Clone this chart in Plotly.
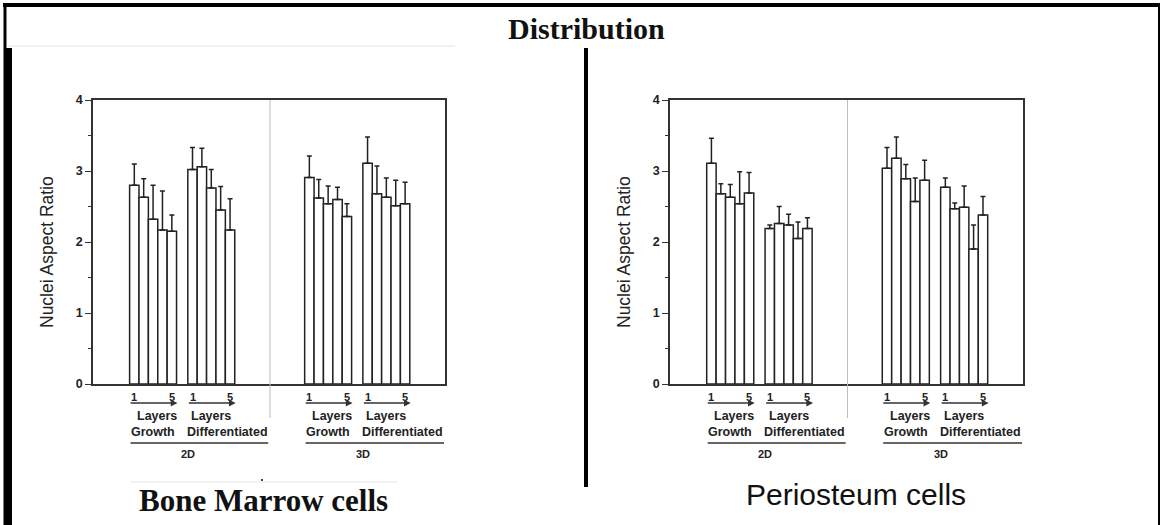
import plotly.graph_objects as go

W, H = 1162, 525

# ---- data -------------------------------------------------------------
layers = [1, 2, 3, 4, 5]
dimensions = ["2D", "3D"]
conditions = ["Growth", "Differentiated"]
y_title = "Nuclei Aspect Ratio"
y_ticks = [0, 1, 2, 3, 4]

# Bone Marrow cells: mean nuclei aspect ratio and upper error bar per layer
bm_2d_growth = [2.80, 2.63, 2.32, 2.17, 2.15]
bm_2d_growth_err = [0.30, 0.26, 0.48, 0.55, 0.23]
bm_2d_diff = [3.02, 3.06, 2.76, 2.45, 2.17]
bm_2d_diff_err = [0.31, 0.26, 0.26, 0.33, 0.44]
bm_3d_growth = [2.91, 2.62, 2.54, 2.60, 2.36]
bm_3d_growth_err = [0.30, 0.26, 0.25, 0.17, 0.18]
bm_3d_diff = [3.11, 2.68, 2.63, 2.51, 2.54]
bm_3d_diff_err = [0.37, 0.39, 0.27, 0.36, 0.30]

# Periosteum cells
po_2d_growth = [3.11, 2.68, 2.63, 2.54, 2.69]
po_2d_growth_err = [0.35, 0.14, 0.18, 0.45, 0.29]
po_2d_diff = [2.19, 2.26, 2.24, 2.05, 2.19]
po_2d_diff_err = [0.05, 0.24, 0.15, 0.23, 0.15]
po_3d_growth = [3.04, 3.18, 2.89, 2.57, 2.87]
po_3d_growth_err = [0.29, 0.30, 0.20, 0.33, 0.28]
po_3d_diff = [2.77, 2.47, 2.49, 1.90, 2.38]
po_3d_diff_err = [0.13, 0.08, 0.30, 0.34, 0.26]

# ---- layout constants ---------------------------------------------------
X_MAX = 37.5                      # x axis span, in bar widths
DIVIDER = 18.86                   # 2D | 3D separator
GROUP_START = {("2D", "Growth"): 3.9, ("2D", "Differentiated"): 10.1,
               ("3D", "Growth"): 22.55, ("3D", "Differentiated"): 28.75}
PLOT_TOP, PLOT_BOTTOM = 100, 384  # pixel rows of the plot boxes
PANELS = [  # (x axis, y axis, left px, right px)
    ("x", "y", 93, 445),
    ("x2", "y2", 670, 1023),
]

SANS = "Liberation Sans, Arial, sans-serif"
SERIF = "Liberation Serif, Times New Roman, serif"
INK = "#222222"


def py(p):
    """pixel row -> paper y"""
    return 1 - p / H


def px(p):
    """pixel column -> paper x"""
    return p / W


fig = go.Figure()

panel_data = [
    {("2D", "Growth"): (bm_2d_growth, bm_2d_growth_err),
     ("2D", "Differentiated"): (bm_2d_diff, bm_2d_diff_err),
     ("3D", "Growth"): (bm_3d_growth, bm_3d_growth_err),
     ("3D", "Differentiated"): (bm_3d_diff, bm_3d_diff_err)},
    {("2D", "Growth"): (po_2d_growth, po_2d_growth_err),
     ("2D", "Differentiated"): (po_2d_diff, po_2d_diff_err),
     ("3D", "Growth"): (po_3d_growth, po_3d_growth_err),
     ("3D", "Differentiated"): (po_3d_diff, po_3d_diff_err)},
]

annotations = []
shapes = []
BOLD11 = dict(family=SANS, size=11, color=INK, weight="bold")
BOLD12 = dict(family=SANS, size=12.5, color=INK, weight="bold")

for (xa, ya, left, right), groups in zip(PANELS, panel_data):
    unit_px = (right - left) / X_MAX
    for key, (means, errs) in groups.items():
        start = GROUP_START[key]
        xs = [start + l - 0.5 for l in layers]
        fig.add_trace(go.Bar(
            x=xs, y=means, width=[1] * len(xs), xaxis=xa, yaxis=ya,
            marker=dict(color="white", line=dict(color=INK, width=1.5)),
            error_y=dict(type="data", array=errs, arrayminus=[0] * len(errs),
                         symmetric=False, color=INK, thickness=1.5, width=2.5),
            showlegend=False, hoverinfo="y",
        ))
        # layer index labels and arrow
        for lab, xv in ((str(layers[0]), xs[0]), (str(layers[-1]), xs[-1])):
            annotations.append(dict(
                x=xv, y=py(397), xref=xa, yref="paper", text=lab, showarrow=False,
                font=BOLD11, xanchor="center", yanchor="middle"))
        annotations.append(dict(
            x=start + 5.1, y=py(403), xref=xa, yref="paper", text="",
            showarrow=True, arrowhead=2, arrowsize=0.9, arrowwidth=1.5,
            arrowcolor="#333333", ax=-5.15 * unit_px, ay=0, standoff=0))
        dim, cond = key
        if cond == "Growth":
            annotations.append(dict(
                x=start + 2.9, y=py(416), xref=xa, yref="paper", text="Layers",
                showarrow=False, font=BOLD12, xanchor="center", yanchor="middle"))
            annotations.append(dict(
                x=start + 2.5, y=py(432), xref=xa, yref="paper", text=cond,
                showarrow=False, font=BOLD12, xanchor="center", yanchor="middle"))
        else:
            annotations.append(dict(
                x=start + 2.5, y=py(416), xref=xa, yref="paper", text="Layers",
                showarrow=False, font=BOLD12, xanchor="center", yanchor="middle"))
            annotations.append(dict(
                x=start - 0.3, y=py(432), xref=xa, yref="paper", text=cond,
                showarrow=False, font=BOLD12, xanchor="left", yanchor="middle"))

    # 2D / 3D brackets
    g2 = GROUP_START[("2D", "Growth")]
    d2 = GROUP_START[("2D", "Differentiated")]
    g3 = GROUP_START[("3D", "Growth")]
    d3 = GROUP_START[("3D", "Differentiated")]
    for x0, x1, lab, cx in ((g2 + 0.1, DIVIDER - 0.2, dimensions[0], (g2 + d2 + 5) / 2 + 0.6),
                            (g3 + 0.1, X_MAX - 0.1, dimensions[1], (g3 + d3 + 5) / 2 + 0.6)):
        shapes.append(dict(type="line", xref=xa, yref="paper", x0=x0, x1=x1,
                           y0=py(443), y1=py(443), line=dict(color="#333333", width=1.5)))
        annotations.append(dict(
            x=cx, y=py(454), xref=xa, yref="paper", text=lab, showarrow=False,
            font=BOLD11, xanchor="center", yanchor="middle"))

    # vertical separator inside the plot
    shapes.append(dict(type="line", xref=xa, yref="paper", x0=DIVIDER, x1=DIVIDER,
                       y0=py(418), y1=py(PLOT_TOP), line=dict(color="#bdbdbd", width=1)))

    # y axis title
    annotations.append(dict(
        x=px(left - 46), y=py((PLOT_TOP + PLOT_BOTTOM) / 2 + 10), xref="paper", yref="paper",
        text=y_title, textangle=-90, showarrow=False,
        font=dict(family=SANS, size=17.5, color=INK), xanchor="center", yanchor="middle"))

# ---- axes ---------------------------------------------------------------
for i, (xa, ya, left, right) in enumerate(PANELS):
    sfx = "" if i == 0 else str(i + 1)
    fig.layout["xaxis" + sfx] = dict(
        domain=[px(left), px(right)], range=[0, X_MAX], anchor=ya, automargin=False,
        showline=True, mirror=True, linecolor="#333333", linewidth=1.5,
        showticklabels=False, ticks="", showgrid=False, zeroline=False, fixedrange=True)
    fig.layout["yaxis" + sfx] = dict(
        domain=[py(PLOT_BOTTOM), py(PLOT_TOP)], range=[0, 4], anchor=xa, automargin=False,
        tickvals=y_ticks, ticks="outside", ticklen=6, tickwidth=1.2, tickcolor="#333333",
        minor=dict(tickvals=[0.5, 1.5, 2.5, 3.5], ticks="outside", ticklen=3,
                   tickwidth=1.2, tickcolor="#333333"),
        showline=True, mirror=True, linecolor="#333333", linewidth=1.5,
        showgrid=False, zeroline=False,
        tickfont=dict(family=SANS, size=12.5, color=INK, weight="bold"))

# ---- page frame and headings ---------------------------------------------
frame = "#000000"
shapes += [
    dict(type="line", xref="paper", yref="paper", x0=px(3), x1=px(1160),
         y0=py(5), y1=py(5), line=dict(color=frame, width=4)),
    dict(type="line", xref="paper", yref="paper", x0=px(5), x1=px(5),
         y0=py(3), y1=py(525), line=dict(color=frame, width=3)),
    dict(type="line", xref="paper", yref="paper", x0=px(1159), x1=px(1159),
         y0=py(3), y1=py(525), line=dict(color=frame, width=2)),
    dict(type="rect", xref="paper", yref="paper", x0=px(4), x1=px(12),
         y0=py(48), y1=py(525), fillcolor=frame, line=dict(width=0)),
    dict(type="line", xref="paper", yref="paper", x0=px(586), x1=px(586),
         y0=py(48), y1=py(487), line=dict(color=frame, width=4)),
    dict(type="line", xref="paper", yref="paper", x0=px(8), x1=px(455),
         y0=py(46), y1=py(46), line=dict(color="#e6e6e6", width=1)),
    dict(type="line", xref="paper", yref="paper", x0=px(130), x1=px(398),
         y0=py(482), y1=py(482), line=dict(color="#e6e6e6", width=1)),
    dict(type="rect", xref="paper", yref="paper", x0=px(261), x1=px(263),
         y0=py(481), y1=py(479), fillcolor="#444444", line=dict(width=0)),
]

annotations += [
    dict(x=px(586), y=py(28), xref="paper", yref="paper", text="<b>Distribution</b>",
         showarrow=False, font=dict(family=SERIF, size=30, color="#111111"),
         xanchor="center", yanchor="middle"),
    dict(x=px(263), y=py(500), xref="paper", yref="paper", text="<b>Bone Marrow cells</b>",
         showarrow=False, font=dict(family=SERIF, size=31, color="#111111"),
         xanchor="center", yanchor="middle"),
    dict(x=px(856), y=py(494), xref="paper", yref="paper", text="Periosteum cells",
         showarrow=False, font=dict(family=SANS, size=30, color="#111111"),
         xanchor="center", yanchor="middle"),
]

fig.update_layout(
    width=W, height=H, margin=dict(l=0, r=0, t=0, b=0, pad=0, autoexpand=False),
    paper_bgcolor="white", plot_bgcolor="white",
    barmode="overlay", showlegend=False,
    shapes=shapes, annotations=annotations,
)

fig.write_html("out.html", config={"displayModeBar": False})
